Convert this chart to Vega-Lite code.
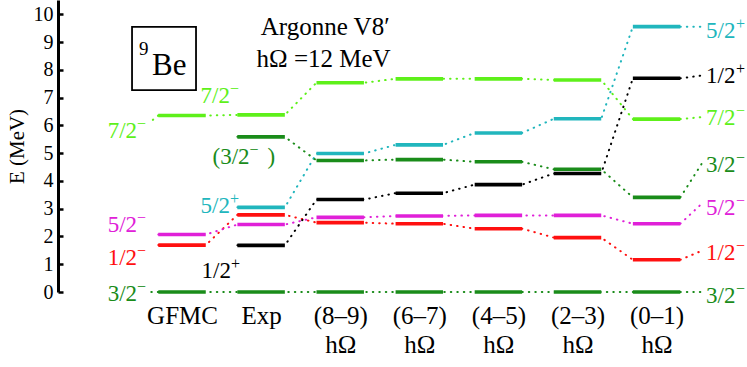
{
  "$schema": "https://vega.github.io/schema/vega-lite/v6.json",
  "width": 689,
  "height": 292,
  "autosize": {"type": "none"},
  "padding": {"left": 58, "top": 0, "right": 0, "bottom": 75},
  "background": "white",
  "config": {
    "view": {"stroke": null},
    "font": "Liberation Serif",
    "axisY": {"tickCount": 11, "grid": false, "domainColor": "#000", "domainWidth": 3,
      "tickColor": "#000", "tickWidth": 2.5, "tickSize": -5, "labelFont": "Liberation Serif", "labelFontSize": 20, "labelColor": "#000",
      "labelPadding": 10, "labelOverlap": false, "labelFlush": false, "labelBound": false,
      "titleFont": "Liberation Serif", "titleFontSize": 21, "titleFontWeight": "normal", "titleColor": "#000", "titlePadding": 6},
    "axisX": {"tickCount": 9, "domain": false, "ticks": false, "grid": false,
      "labelExpr": "datum.value >= 0 && datum.value <= 6 ? [['GFMC'],['Exp'],['(8–9)','hΩ'],['(6–7)','hΩ'],['(4–5)','hΩ'],['(2–3)','hΩ'],['(0–1)','hΩ']][datum.value] : ''",
      "labelFont": "Liberation Serif", "labelFontSize": 25, "labelColor": "#000", "labelLineHeight": 29, "labelPadding": 11,
      "labelOverlap": false, "labelFlush": false, "labelBound": false}
  },
  "datasets": {
    "levels": [
      {"s": "g", "c": 0, "E": 0}, {"s": "12m", "c": 0, "E": 1.69}, {"s": "52m", "c": 0, "E": 2.07}, {"s": "72m", "c": 0, "E": 6.36},
      {"s": "g", "c": 1, "E": 0}, {"s": "12p", "c": 1, "E": 1.68}, {"s": "52m", "c": 1, "E": 2.43}, {"s": "12m", "c": 1, "E": 2.78}, {"s": "52p", "c": 1, "E": 3.05}, {"s": "x32", "c": 1, "E": 5.59}, {"s": "72m", "c": 1, "E": 6.38},
      {"s": "g", "c": 2, "E": 0}, {"s": "12m", "c": 2, "E": 2.5}, {"s": "52m", "c": 2, "E": 2.69}, {"s": "12p", "c": 2, "E": 3.33}, {"s": "x32", "c": 2, "E": 4.74}, {"s": "52p", "c": 2, "E": 4.99}, {"s": "72m", "c": 2, "E": 7.54},
      {"s": "g", "c": 3, "E": 0}, {"s": "12m", "c": 3, "E": 2.46}, {"s": "52m", "c": 3, "E": 2.74}, {"s": "12p", "c": 3, "E": 3.56}, {"s": "x32", "c": 3, "E": 4.77}, {"s": "52p", "c": 3, "E": 5.3}, {"s": "72m", "c": 3, "E": 7.68},
      {"s": "g", "c": 4, "E": 0}, {"s": "12m", "c": 4, "E": 2.28}, {"s": "52m", "c": 4, "E": 2.76}, {"s": "12p", "c": 4, "E": 3.87}, {"s": "x32", "c": 4, "E": 4.69}, {"s": "52p", "c": 4, "E": 5.73}, {"s": "72m", "c": 4, "E": 7.68},
      {"s": "g", "c": 5, "E": 0}, {"s": "12m", "c": 5, "E": 1.96}, {"s": "52m", "c": 5, "E": 2.76}, {"s": "12p", "c": 5, "E": 4.27}, {"s": "x32", "c": 5, "E": 4.42}, {"s": "52p", "c": 5, "E": 6.24}, {"s": "72m", "c": 5, "E": 7.64},
      {"s": "g", "c": 6, "E": 0}, {"s": "12m", "c": 6, "E": 1.16}, {"s": "52m", "c": 6, "E": 2.46}, {"s": "x32", "c": 6, "E": 3.41}, {"s": "72m", "c": 6, "E": 6.23}, {"s": "12p", "c": 6, "E": 7.7}, {"s": "52p", "c": 6, "E": 9.56}
    ],
    "leftLabels": [
      {"s": "72m", "t": "7/2", "sup": "−", "x": -0.442, "E": 5.54},
      {"s": "52m", "t": "5/2", "sup": "−", "x": -0.442, "E": 2.15},
      {"s": "12m", "t": "1/2", "sup": "−", "x": -0.442, "E": 0.96},
      {"s": "g", "t": "3/2", "sup": "−", "x": -0.442, "E": -0.31},
      {"s": "72m", "t": "7/2", "sup": "−", "x": 0.733, "E": 6.8},
      {"s": "52p", "t": "5/2", "sup": "+", "x": 0.733, "E": 2.83},
      {"s": "12p", "t": "1/2", "sup": "+", "x": 0.745, "E": 0.52}
    ],
    "rightLabels": [
      {"s": "52p", "t": "5/2", "sup": "+", "x": 6.625, "E": 9.15},
      {"s": "12p", "t": "1/2", "sup": "+", "x": 6.625, "E": 7.53},
      {"s": "72m", "t": "7/2", "sup": "−", "x": 6.625, "E": 6.01},
      {"s": "x32", "t": "3/2", "sup": "−", "x": 6.625, "E": 4.31},
      {"s": "52m", "t": "5/2", "sup": "−", "x": 6.625, "E": 2.76},
      {"s": "12m", "t": "1/2", "sup": "−", "x": 6.625, "E": 1.14},
      {"s": "g", "t": "3/2", "sup": "−", "x": 6.625, "E": -0.38}
    ],
    "paren": [
      {"s": "x32", "t": "(3/2", "sup": "−", "close": ")", "x": 0.98, "E": 4.6}
    ]
  },
  "layer": [
    {
      "data": {"name": "levels"},
      "transform": [
        {"calculate": "datum.c - 0.3", "as": "xl"},
        {"calculate": "datum.c + 0.3", "as": "xr"},
        {"fold": ["xl", "xr"], "as": ["side", "xp"]}
      ],
      "mark": {"type": "line", "strokeDash": [0.5, 6], "strokeCap": "round", "strokeWidth": 2},
      "encoding": {
        "x": {"field": "xp", "type": "quantitative", "title": null, "scale": {"domain": [-1.568, 7.143], "nice": false, "zero": false}},
        "y": {"field": "E", "type": "quantitative", "title": "E (MeV)", "scale": {"domain": [0, 10.52], "nice": false, "zero": false}},
        "color": {"field": "s", "type": "nominal", "legend": null,
          "scale": {"domain": ["g", "x32", "12m", "52m", "72m", "12p", "52p"], "range": ["#1a8c1a", "#1a8c1a", "#ff1010", "#e020d8", "#5ef01a", "#000000", "#21b6bd"]}},
        "detail": {"field": "s"},
        "order": {"field": "xp", "type": "quantitative"}
      }
    },
    {
      "data": {"name": "levels"},
      "transform": [
        {"calculate": "datum.c - 0.3", "as": "xl"},
        {"calculate": "datum.c + 0.3", "as": "xr"}
      ],
      "mark": {"type": "rule", "strokeWidth": 3.6, "strokeCap": "butt"},
      "encoding": {
        "x": {"field": "xl", "type": "quantitative", "title": null},
        "x2": {"field": "xr"},
        "y": {"field": "E", "type": "quantitative", "title": "E (MeV)"},
        "color": {"field": "s", "type": "nominal", "legend": null}
      }
    },
    {
      "data": {"values": [
        {"s": "52p", "x1": 6.3, "E1": 9.56, "x2": 6.574, "E2": 9.56},
        {"s": "12p", "x1": 6.3, "E1": 7.7, "x2": 6.574, "E2": 7.8},
        {"s": "72m", "x1": 6.3, "E1": 6.23, "x2": 6.574, "E2": 6.3},
        {"s": "x32", "x1": 6.3, "E1": 3.41, "x2": 6.574, "E2": 4.64},
        {"s": "52m", "x1": 6.3, "E1": 2.46, "x2": 6.574, "E2": 3.19},
        {"s": "12m", "x1": 6.3, "E1": 1.16, "x2": 6.574, "E2": 1.49},
        {"s": "g", "x1": 6.3, "E1": 0, "x2": 6.574, "E2": 0},
        {"s": "72m", "x1": -0.3, "E1": 6.36, "x2": -0.405, "E2": 6.12},
        {"s": "g", "x1": -0.3, "E1": 0, "x2": -0.42, "E2": 0}
      ]},
      "mark": {"type": "rule", "strokeDash": [0.5, 6], "strokeCap": "round", "strokeWidth": 2},
      "encoding": {
        "x": {"field": "x1", "type": "quantitative", "title": null},
        "x2": {"field": "x2"},
        "y": {"field": "E1", "type": "quantitative", "title": "E (MeV)"},
        "y2": {"field": "E2"},
        "color": {"field": "s", "type": "nominal", "legend": null}
      }
    },
    {
      "data": {"name": "leftLabels"},
      "mark": {"type": "text", "align": "right", "baseline": "alphabetic", "fontSize": 23, "font": "Liberation Serif", "dx": -10},
      "encoding": {
        "x": {"field": "x", "type": "quantitative", "title": null},
        "y": {"field": "E", "type": "quantitative", "title": "E (MeV)"},
        "text": {"field": "t"},
        "color": {"field": "s", "type": "nominal", "legend": null}
      }
    },
    {
      "data": {"name": "leftLabels"},
      "mark": {"type": "text", "align": "left", "baseline": "alphabetic", "fontSize": 16, "font": "Liberation Serif", "dx": -10, "dy": -9},
      "encoding": {
        "x": {"field": "x", "type": "quantitative", "title": null},
        "y": {"field": "E", "type": "quantitative", "title": "E (MeV)"},
        "text": {"field": "sup"},
        "color": {"field": "s", "type": "nominal", "legend": null}
      }
    },
    {
      "data": {"name": "rightLabels"},
      "mark": {"type": "text", "align": "left", "baseline": "alphabetic", "fontSize": 23, "font": "Liberation Serif"},
      "encoding": {
        "x": {"field": "x", "type": "quantitative", "title": null},
        "y": {"field": "E", "type": "quantitative", "title": "E (MeV)"},
        "text": {"field": "t"},
        "color": {"field": "s", "type": "nominal", "legend": null}
      }
    },
    {
      "data": {"name": "rightLabels"},
      "mark": {"type": "text", "align": "left", "baseline": "alphabetic", "fontSize": 16, "font": "Liberation Serif", "dx": 30, "dy": -9},
      "encoding": {
        "x": {"field": "x", "type": "quantitative", "title": null},
        "y": {"field": "E", "type": "quantitative", "title": "E (MeV)"},
        "text": {"field": "sup"},
        "color": {"field": "s", "type": "nominal", "legend": null}
      }
    },
    {
      "data": {"name": "paren"},
      "mark": {"type": "text", "align": "right", "baseline": "alphabetic", "fontSize": 23, "font": "Liberation Serif", "dx": -10},
      "encoding": {
        "x": {"field": "x", "type": "quantitative", "title": null},
        "y": {"field": "E", "type": "quantitative", "title": "E (MeV)"},
        "text": {"field": "t"},
        "color": {"field": "s", "type": "nominal", "legend": null}
      }
    },
    {
      "data": {"name": "paren"},
      "mark": {"type": "text", "align": "left", "baseline": "alphabetic", "fontSize": 16, "font": "Liberation Serif", "dx": -10, "dy": -9},
      "encoding": {
        "x": {"field": "x", "type": "quantitative", "title": null},
        "y": {"field": "E", "type": "quantitative", "title": "E (MeV)"},
        "text": {"field": "sup"},
        "color": {"field": "s", "type": "nominal", "legend": null}
      }
    },
    {
      "data": {"name": "paren"},
      "mark": {"type": "text", "align": "left", "baseline": "alphabetic", "fontSize": 23, "font": "Liberation Serif", "dx": 8},
      "encoding": {
        "x": {"field": "x", "type": "quantitative", "title": null},
        "y": {"field": "E", "type": "quantitative", "title": "E (MeV)"},
        "text": {"field": "close"},
        "color": {"field": "s", "type": "nominal", "legend": null}
      }
    },
    {
      "data": {"values": [{"x1": -0.632, "x2": 0.177, "y1": 9.55, "y2": 7.27}]},
      "mark": {"type": "rect", "fill": null, "stroke": "#000", "strokeWidth": 1.8},
      "encoding": {
        "x": {"field": "x1", "type": "quantitative", "title": null},
        "x2": {"field": "x2"},
        "y": {"field": "y1", "type": "quantitative", "title": "E (MeV)"},
        "y2": {"field": "y2"}
      }
    },
    {
      "data": {"values": [{"t": "Be", "x": -0.379, "E": 7.82}]},
      "mark": {"type": "text", "align": "left", "baseline": "alphabetic", "fontSize": 31, "font": "Liberation Serif", "color": "#000"},
      "encoding": {
        "x": {"field": "x", "type": "quantitative", "title": null},
        "y": {"field": "E", "type": "quantitative", "title": "E (MeV)"},
        "text": {"field": "t"}
      }
    },
    {
      "data": {"values": [{"t": "9", "x": -0.544, "E": 8.54}]},
      "mark": {"type": "text", "align": "left", "baseline": "alphabetic", "fontSize": 19, "font": "Liberation Serif", "color": "#000"},
      "encoding": {
        "x": {"field": "x", "type": "quantitative", "title": null},
        "y": {"field": "E", "type": "quantitative", "title": "E (MeV)"},
        "text": {"field": "t"}
      }
    },
    {
      "data": {"values": [{"t": "Argonne V8′", "x": 1.81, "E": 9.26}, {"t": "hΩ =12 MeV", "x": 1.79, "E": 8.12}]},
      "mark": {"type": "text", "align": "center", "baseline": "alphabetic", "fontSize": 25, "font": "Liberation Serif", "color": "#000"},
      "encoding": {
        "x": {"field": "x", "type": "quantitative", "title": null},
        "y": {"field": "E", "type": "quantitative", "title": "E (MeV)"},
        "text": {"field": "t"}
      }
    }
  ]
}
